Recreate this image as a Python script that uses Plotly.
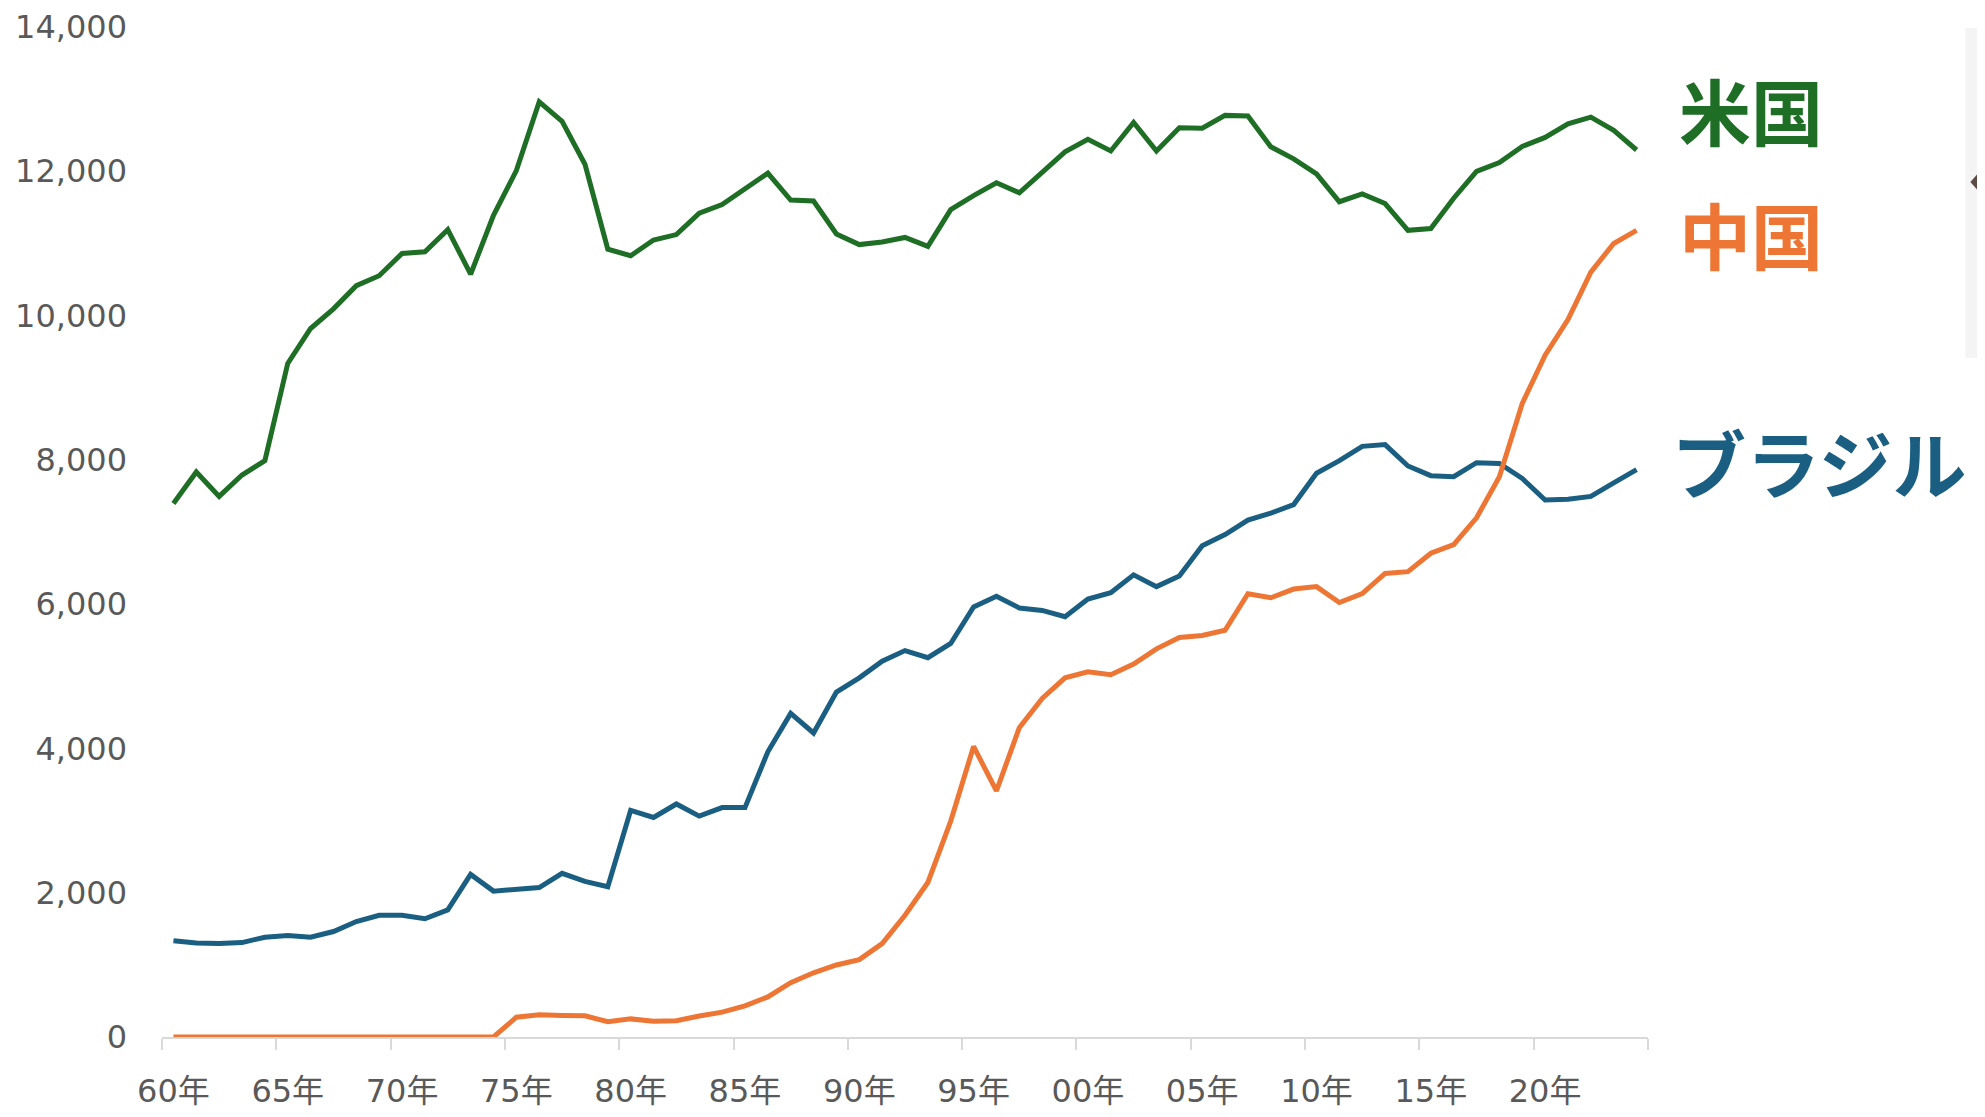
import plotly.graph_objects as go

# 1960年〜2024年
years = list(range(1960, 2025))

usa = [7395, 7832, 7494, 7790, 7989, 9336, 9821, 10093, 10415, 10553,
       10861, 10885, 11192, 10573, 11390, 12009, 12964, 12692, 12098, 10919,
       10830, 11048, 11123, 11420, 11538, 11766, 11974, 11602, 11588, 11132,
       10984, 11019, 11083, 10959, 11469, 11662, 11840, 11702, 11979, 12270,
       12444, 12282, 12677, 12282, 12603, 12597, 12775, 12766, 12340, 12172,
       11964, 11578, 11687, 11553, 11182, 11207, 11627, 11999, 12122, 12345,
       12469, 12657, 12751, 12568, 12295]

china = [0, 0, 0, 0, 0, 0, 0, 0, 0, 0,
         0, 0, 0, 0, 0, 274, 309, 299, 295, 211,
         251, 218, 226, 290, 344, 432, 556, 753, 890, 998,
         1073, 1295, 1688, 2142, 2993, 4027, 3411, 4287, 4692, 4978,
         5061, 5022, 5169, 5381, 5539, 5565, 5638, 6145, 6088, 6209,
         6243, 6022, 6145, 6425, 6450, 6705, 6826, 7197, 7767, 8781,
         9450, 9945, 10603, 10999, 11182]

brazil = [1334, 1304, 1295, 1309, 1383, 1408, 1383, 1462, 1600, 1688,
          1688, 1639, 1762, 2254, 2022, 2047, 2072, 2269, 2156, 2082,
          3141, 3043, 3230, 3062, 3180, 3180, 3953, 4486, 4214, 4781,
          4978, 5209, 5356, 5258, 5455, 5962, 6110, 5947, 5913, 5825,
          6070, 6159, 6406, 6243, 6390, 6810, 6964, 7165, 7260, 7380,
          7815, 7989, 8187, 8212, 7915, 7781, 7767, 7960, 7950, 7742,
          7444, 7455, 7494, 7682, 7865]

tick_years = list(range(1960, 2025, 5))
tick_text = [f"{y % 100:02d}年" for y in tick_years]
y_ticks = list(range(0, 14001, 2000))

GREEN = "#1f6e25"
ORANGE = "#ed7634"
BLUE = "#1a5f82"
GREY_TXT = "#595959"
FONT = "DejaVu Sans, Noto Sans CJK JP, sans-serif"

# the page body has an 8px margin, so the figure is 16px smaller than the window
OFF = 8
W, H = 1985 - 2 * OFF, 1117 - 2 * OFF
L, T = 162 - OFF, 27 - OFF
R = W - (1648.5 - OFF)
B = H - (1037 - OFF)


def px_to_paper(px, py):
    # page pixels -> paper coordinates
    fx, fy = px - OFF, py - OFF
    return (fx - L) / (W - L - R), (H - B - fy) / (H - T - B)


fig = go.Figure()
for name, vals, color in [("米国", usa, GREEN), ("ブラジル", brazil, BLUE), ("中国", china, ORANGE)]:
    fig.add_trace(go.Scatter(x=years, y=vals, name=name, mode="lines",
                             line=dict(color=color, width=5)))

# series labels on the right
for text, color, px, py, size in [("米国", GREEN, 1678, 109, 72),
                                  ("中国", ORANGE, 1678, 233, 72),
                                  ("ブラジル", BLUE, 1671, 460, 74)]:
    ax, ay = px_to_paper(px, py)
    fig.add_annotation(x=ax, y=ay, xref="paper", yref="paper", text=f"<b>{text}</b>",
                       showarrow=False, xanchor="left", yanchor="middle",
                       font=dict(family="Noto Sans CJK JP", size=size, color=color))

# partial page widget on the right edge
x0, y0 = px_to_paper(1966, 28)
x1, y1 = px_to_paper(1985, 358)
fig.add_shape(type="rect", xref="paper", yref="paper", x0=x0, y0=y1, x1=x1, y1=y0,
              fillcolor="#f4f4f4", line=dict(width=0), layer="below")
tx, ty = px_to_paper(1971, 182)
bx, by1 = px_to_paper(1978, 174)
_, by2 = px_to_paper(1978, 190)
fig.add_shape(type="path", xref="paper", yref="paper",
              path=f"M {tx} {ty} L {bx} {by1} L {bx} {by2} Z",
              fillcolor="#5c4a45", line=dict(width=0))

fig.update_layout(
    width=W, height=H,
    margin=dict(l=L, r=R, t=T, b=B),
    plot_bgcolor="white", paper_bgcolor="white",
    showlegend=False,
    font=dict(family=FONT, color=GREY_TXT),
    xaxis=dict(
        range=[1959.5, 2024.5], automargin=False,
        tickvals=tick_years, ticktext=tick_text,
        ticks="", showgrid=False, zeroline=False,
        showline=True, linecolor="#d9d9d9", linewidth=1.5,
        tickfont=dict(size=32, color=GREY_TXT),
        ticklabelstandoff=25,
        minor=dict(tickvals=[y - 0.5 for y in tick_years] + [2024.5],
                   ticks="outside", ticklen=11, tickcolor="#d9d9d9",
                   tickwidth=1.5, showgrid=False),
    ),
    yaxis=dict(
        range=[0, 14000], automargin=False,
        tickvals=y_ticks, tickformat=",",
        ticks="", showgrid=False, zeroline=False, showline=False,
        tickfont=dict(size=32, color=GREY_TXT),
        ticklabelstandoff=34,
    ),
)

fig.write_html("out.html")
